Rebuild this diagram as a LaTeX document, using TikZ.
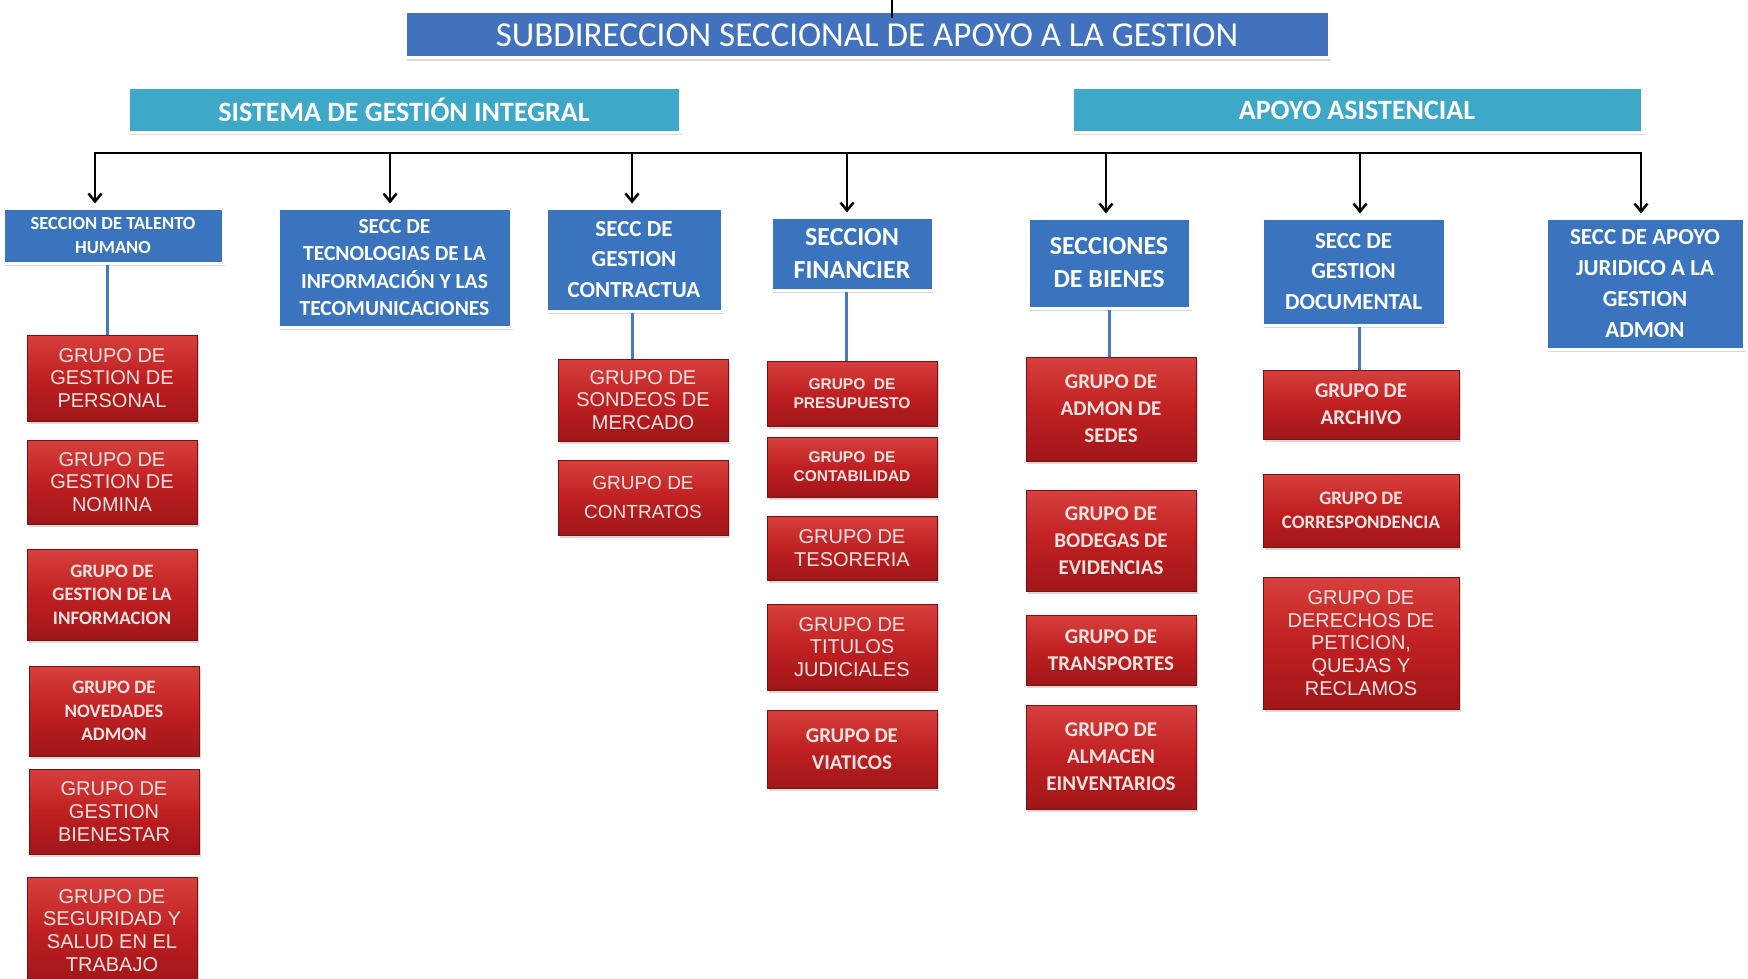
\documentclass[tikz,border=0pt]{standalone}
\usepackage{fontspec}
\setmainfont{Liberation Sans}
\newfontfamily\carlitofont{Carlito}
\usepackage{tikz}
\usetikzlibrary{arrows.meta, positioning, shadows}

\definecolor{titleblue}{RGB}{66,114,190}
\definecolor{bandcyan}{RGB}{62,168,200}
\definecolor{seccblue}{RGB}{58,116,190}
\definecolor{linkblue}{RGB}{70,120,200}
\definecolor{grpred}{RGB}{192,32,34}
\definecolor{grptop}{RGB}{214,64,60}
\definecolor{grpbot}{RGB}{160,22,24}
\definecolor{grpedge}{RGB}{125,16,18}
\definecolor{grptext}{RGB}{247,228,226}

\begin{document}
\begin{tikzpicture}[
  x=1pt, y=-1pt,
  boxshadow/.style = {drop shadow={opacity=0.3, shadow xshift=2pt, shadow yshift=-3pt}},
  head/.style = {rectangle, draw=white, line width=3pt, text=white, inner sep=2pt, boxshadow},
  title/.style = {head, fill=titleblue, minimum width=924pt, minimum height=46pt, font=\carlitofont\fontsize{35}{38}\selectfont},
  band/.style = {head, fill=bandcyan, minimum height=45pt, font=\carlitofont\bfseries\fontsize{28}{30}\selectfont},
  secc/.style = {head, fill=seccblue, align=center, font=\carlitofont\bfseries\fontsize{23}{30.5}\selectfont},
  grupo/.style = {rectangle, draw=grpedge, line width=1pt, top color=grptop, bottom color=grpbot, middle color=grpred, text=grptext, align=center, minimum width=170pt, inner sep=2pt, boxshadow, font=\fontsize{20}{22.8}\selectfont},
  grpcal/.style = {grupo, font=\carlitofont\bfseries\fontsize{19}{23.5}\selectfont},
  grpwide/.style = {grupo, font=\carlitofont\bfseries\fontsize{21}{27}\selectfont},
  grptiny/.style = {grupo, font=\bfseries\fontsize{15.5}{19}\selectfont},
  arrow/.style = {-{Straight Barb[length=8pt, width=13pt, line width=2.5pt]}, line width=2.5pt},
  link/.style = {draw=linkblue, line width=3pt},
  node distance=20pt
]
\useasboundingbox (0,0) rectangle (1748,979);

% heads
\node[title] (sub) at (867,35) {SUBDIRECCION SECCIONAL DE APOYO A LA GESTION};
\node[band, minimum width=552pt] (sgi) at (404,110) {SISTEMA DE GESTIÓN INTEGRAL};
\node[band, minimum width=570pt] (apoyo) at (1357,110) {APOYO ASISTENCIAL};

% secciones
\node[secc, minimum width=220pt, minimum height=55pt, font=\carlitofont\bfseries\fontsize{18.5}{24.5}\selectfont] (talento) at (113,235.5) {SECCION DE TALENTO\\HUMANO};
\node[secc, minimum width=233pt, minimum height=119pt, font=\carlitofont\bfseries\fontsize{21.5}{27.5}\selectfont] (tics) at (394.5,267.5) {SECC DE\\TECNOLOGIAS DE LA\\INFORMACIÓN Y LAS\\TECOMUNICACIONES};
\node[secc, minimum width=176pt, minimum height=103pt] (contrato) at (634,259.5) {SECC DE\\GESTION\\CONTRACTUA};
\node[secc, minimum width=162pt, minimum height=73pt, font=\carlitofont\bfseries\fontsize{26}{33}\selectfont] (finan) at (852,253.5) {SECCION\\FINANCIER};
\node[secc, minimum width=162pt, minimum height=90pt, font=\carlitofont\bfseries\fontsize{26}{33}\selectfont] (bienes) at (1109,263) {SECCIONES\\DE BIENES};
\node[secc, minimum width=183pt, minimum height=107pt] (docum) at (1353.5,271.5) {SECC DE\\GESTION\\DOCUMENTAL};
\node[secc, minimum width=198pt, minimum height=131pt, font=\carlitofont\bfseries\fontsize{23}{31}\selectfont] (juridico) at (1645,283.5) {SECC DE APOYO\\JURIDICO A LA\\GESTION\\ADMON};

% grupos talento humano
\node[grupo, minimum height=86pt, below=70pt of talento, xshift=-1pt] (personal) {GRUPO DE\\GESTION DE\\PERSONAL};
\node[grupo, minimum height=84pt, below=18pt of personal] (nomina) {GRUPO DE\\GESTION DE\\NOMINA};
\node[grpcal, minimum height=91pt, below=24pt of nomina] (info) {GRUPO DE\\GESTION DE LA\\INFORMACION};
\node[grpcal, minimum height=90pt, below=25pt of info, xshift=2pt] (novedades) {GRUPO DE\\NOVEDADES\\ADMON};
\node[grupo, minimum height=85pt, below=12pt of novedades] (bienestar) {GRUPO DE\\GESTION\\BIENESTAR};
\node[grupo, minimum height=107pt, below=22pt of bienestar, xshift=-2pt] (seguridad) {GRUPO DE\\SEGURIDAD Y\\SALUD EN EL\\TRABAJO};

% grupos contractual
\node[grupo, minimum height=82pt, below=46pt of contrato, xshift=9pt] (sondeos) {GRUPO DE\\SONDEOS DE\\MERCADO};
\node[grupo, minimum height=75pt, below=18pt of sondeos, font=\fontsize{19}{29}\selectfont] (contratos) {GRUPO DE\\CONTRATOS};

% grupos financiera
\node[grptiny, minimum height=65pt, below=69pt of finan] (presup) {GRUPO\ \ DE\\PRESUPUESTO};
\node[grptiny, minimum height=60pt, below=10pt of presup] (contab) {GRUPO\ \ DE\\CONTABILIDAD};
\node[grupo, minimum height=64pt, below=18pt of contab] (tesoreria) {GRUPO DE\\TESORERIA};
\node[grupo, minimum height=86pt, below=23pt of tesoreria] (titulos) {GRUPO DE\\TITULOS\\JUDICIALES};
\node[grpwide, minimum height=78pt, below=19pt of titulos] (viaticos) {GRUPO DE\\VIATICOS};

% grupos bienes
\node[grpwide, minimum height=104pt, below=47pt of bienes, xshift=2pt] (sedes) {GRUPO DE\\ADMON DE\\SEDES};
\node[grpwide, minimum height=101pt, below=28pt of sedes] (bodegas) {GRUPO DE\\BODEGAS DE\\EVIDENCIAS};
\node[grpwide, minimum height=70pt, below=23pt of bodegas] (transp) {GRUPO DE\\TRANSPORTES};
\node[grpwide, minimum height=104pt, below=19pt of transp] (almacen) {GRUPO DE\\ALMACEN\\EINVENTARIOS};

% grupos documental
\node[grpwide, minimum width=196pt, minimum height=69pt, below=43pt of docum, xshift=7.5pt] (archivo) {GRUPO DE\\ARCHIVO};
\node[grpcal, minimum width=196pt, minimum height=73pt, below=34pt of archivo] (corresp) {GRUPO DE\\CORRESPONDENCIA};
\node[grupo, minimum width=196pt, minimum height=132pt, below=29pt of corresp] (derechos) {GRUPO DE\\DERECHOS DE\\PETICION,\\QUEJAS Y\\RECLAMOS};

% connectors
\coordinate (top) at (892,0);
\draw[line width=2pt] (top) -- ([yshift=-8pt]sub.north -| top);

\coordinate (b1) at (95,153);
\coordinate (b2) at (390,153);
\coordinate (b3) at (632,153);
\coordinate (b4) at (847,153);
\coordinate (b5) at (1106,153);
\coordinate (b6) at (1360,153);
\coordinate (b7) at (1641,153);
\draw[line width=2.5pt, line cap=rect] (b1) -- (b7);

\draw[arrow] (b1) -- ([yshift=3pt]b1 |- talento.north);
\draw[arrow] (b2) -- ([yshift=3pt]b2 |- tics.north);
\draw[arrow] (b3) -- ([yshift=3pt]b3 |- contrato.north);
\draw[arrow] (b4) -- ([yshift=3pt]b4 |- finan.north);
\draw[arrow] (b5) -- ([yshift=3pt]b5 |- bienes.north);
\draw[arrow] (b6) -- ([yshift=3pt]b6 |- docum.north);
\draw[arrow] (b7) -- ([yshift=3pt]b7 |- juridico.north);

\draw[link] ([xshift=-6pt]talento.south) -- ([xshift=-6pt]talento.south |- personal.north);
\draw[link] ([xshift=-2pt]contrato.south) -- ([xshift=-2pt]contrato.south |- sondeos.north);
\draw[link] ([xshift=-6pt]finan.south) -- ([xshift=-6pt]finan.south |- presup.north);
\draw[link] (bienes.south) -- (bienes.south |- sedes.north);
\draw[link] ([xshift=-2pt]archivo.north) -- ([xshift=-2pt]archivo.north |- docum.south);

\end{tikzpicture}
\end{document}
